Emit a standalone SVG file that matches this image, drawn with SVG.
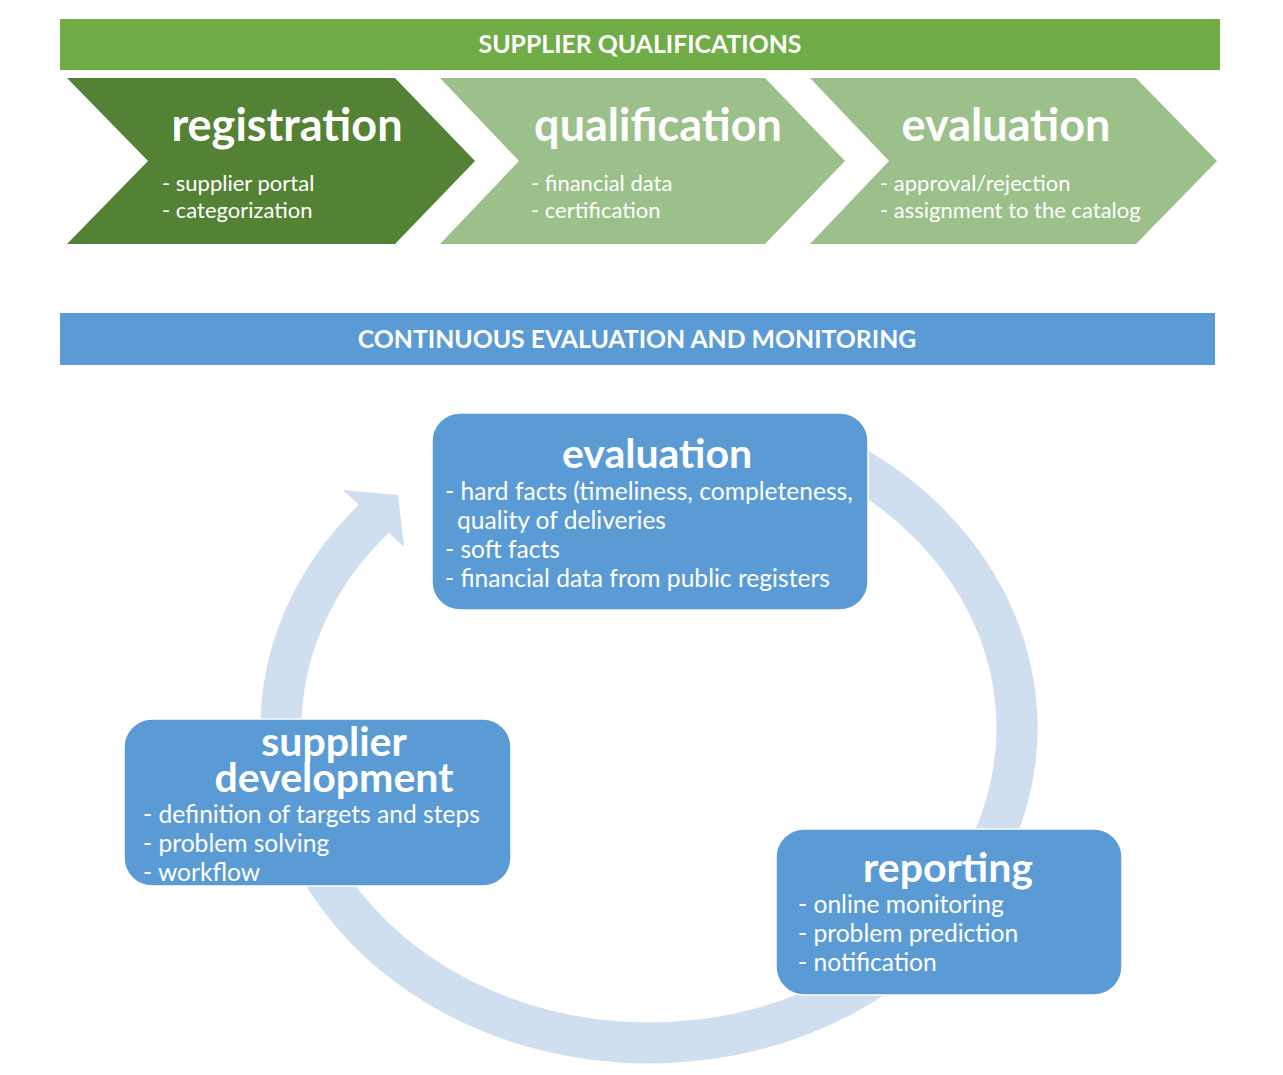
<svg xmlns="http://www.w3.org/2000/svg" width="1283" height="1075" viewBox="0 0 1283 1075">
<style>
  .banner-txt { font-family: Lato, "Open Sans", "Liberation Sans", sans-serif; font-weight: bold; font-size: 24.8px; fill: #FFFFFF; text-anchor: middle; }
  .chev-title { font-family: Lato, "Open Sans", "Liberation Sans", sans-serif; font-weight: bold; font-size: 45px; fill: #FFFFFF; text-anchor: middle; }
  .chev-sub { font-family: Lato, "Open Sans", "Liberation Sans", sans-serif; font-size: 22px; fill: #FFFFFF; }
  .box { fill: #5B9BD5; stroke: #FFFFFF; stroke-width: 1.5; }
  .box-title { font-family: Lato, "Open Sans", "Liberation Sans", sans-serif; font-weight: bold; font-size: 41px; fill: #FFFFFF; text-anchor: middle; }
  .box-txt { font-family: Lato, "Open Sans", "Liberation Sans", sans-serif; font-size: 24.6px; fill: #FFFFFF; }
  .ring { fill: none; stroke: #CFDFEF; stroke-width: 41; stroke-linecap: butt; }
  .ring-head { fill: #CFDFEF; }
</style>
<rect width="1283" height="1075" fill="#FFFFFF"/>

<g id="banner-supplier-qualifications">
  <rect x="60" y="19" width="1160" height="51" fill="#70AD47"/>
  <text class="banner-txt" x="640" y="53">SUPPLIER QUALIFICATIONS</text>
</g>

<g id="step-registration">
  <polygon points="67,78 395,78 475,161 395,244 67,244 148,161" fill="#548235"/>
  <text class="chev-title" x="287" y="141">registration</text>
  <text class="chev-sub" x="162" y="191">- supplier portal</text>
  <text class="chev-sub" x="162" y="218">- categorization</text>
</g>

<g id="step-qualification">
  <polygon points="440,78 765,78 845,161 765,244 440,244 519,161" fill="#9BC08A"/>
  <text class="chev-title" x="658" y="141">qualification</text>
  <text class="chev-sub" x="531" y="191">- financial data</text>
  <text class="chev-sub" x="531" y="218">- certification</text>
</g>

<g id="step-evaluation">
  <polygon points="810,78 1136,78 1217,161 1136,244 810,244 889,161" fill="#9BC08A"/>
  <text class="chev-title" x="1006" y="141">evaluation</text>
  <text class="chev-sub" x="880" y="191">- approval/rejection</text>
  <text class="chev-sub" x="880" y="218">- assignment to the catalog</text>
</g>

<g id="banner-continuous">
  <rect x="60" y="313" width="1155" height="52" fill="#5B9BD5"/>
  <text class="banner-txt" x="637" y="348">CONTINUOUS EVALUATION AND MONITORING</text>
</g>

<g id="connectors">
  <path class="ring" d="M 845.1 461.4 A 368 315 0 1 1 375.5 517.2"/>
  <polygon class="ring-head" points="343,490 398,495 404,547"/>
</g>

<g id="node-evaluation">
  <rect class="box" x="432" y="413" width="436" height="197" rx="28" ry="28"/>
  <text class="box-title" x="657" y="468">evaluation</text>
  <text class="box-txt" x="445" y="500">- hard facts (timeliness, completeness,</text>
  <text class="box-txt" x="457" y="529">quality of deliveries</text>
  <text class="box-txt" x="445" y="558">- soft facts</text>
  <text class="box-txt" x="445" y="587">- financial data from public registers</text>
</g>

<g id="node-supplier-development">
  <rect class="box" x="124" y="719" width="387" height="167" rx="28" ry="28"/>
  <text class="box-title"><tspan x="334" y="756">supplier</tspan><tspan x="334" y="792">development</tspan></text>
  <text class="box-txt" x="143" y="823">- definition of targets and steps</text>
  <text class="box-txt" x="143" y="852">- problem solving</text>
  <text class="box-txt" x="143" y="881">- workflow</text>
</g>

<g id="node-reporting">
  <rect class="box" x="776" y="829" width="346" height="166" rx="28" ry="28"/>
  <text class="box-title" x="948" y="882">reporting</text>
  <text class="box-txt" x="798" y="913">- online monitoring</text>
  <text class="box-txt" x="798" y="942">- problem prediction</text>
  <text class="box-txt" x="798" y="971">- notification</text>
</g>
</svg>
